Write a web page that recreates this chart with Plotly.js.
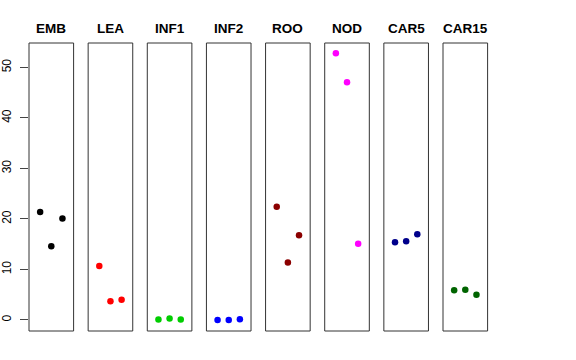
<!DOCTYPE html>
<html>
<head>
<meta charset="utf-8">
<script src="https://cdn.plot.ly/plotly-3.0.1.min.js"></script>
<style>html,body{margin:0;padding:0;background:#fff;}#chart{width:576px;height:360px;}</style>
</head>
<body>
<div id="chart"></div>
<script>
const categories = ['EMB','LEA','INF1','INF2','ROO','NOD','CAR5','CAR15'];
const emb   = [21.4, 14.6, 20.1];
const lea   = [10.7, 3.7, 4.0];
const inf1  = [0.1, 0.3, 0.1];
const inf2  = [0.0, 0.0, 0.15];
const roo   = [22.4, 11.4, 16.8];
const nod   = [52.8, 47.1, 15.1];
const car5  = [15.4, 15.6, 17.0];
const car15 = [5.9, 6.0, 5.0];
const replicate = [1, 2, 3];
const colors = ['#000000','#FF0000','#00CD00','#0000FF','#8B0000','#FF00FF','#00008B','#006400'];
const yTicks = [0, 10, 20, 30, 40, 50];

const series = [emb, lea, inf1, inf2, roo, nod, car5, car15];

const L = 29, R = 488, W = 576;
const step = (443 - 29) / 7, pw = 44.6, span = R - L;

const traces = [];
const layout = {
  width: 576, height: 360,
  margin: {l: L, r: W - R, t: 43, b: 29, pad: 0},
  paper_bgcolor: '#fff', plot_bgcolor: '#fff',
  showlegend: false,
  font: {family: 'Liberation Sans, Arial, sans-serif', size: 12, color: '#000'},
  yaxis: {
    range: [-2.18, 54.85], tickvals: yTicks, ticktext: yTicks.map(String),
    ticks: 'outside', ticklen: 8, tickcolor: '#444', tickwidth: 1,
    tickangle: -90, showgrid: false, zeroline: false, showline: false,
    anchor: 'x', ticklabelstandoff: 4,
    tickfont: {size: 12, color: '#000'}
  },
  shapes: [], annotations: []
};

series.forEach((vals, i) => {
  const ax = i === 0 ? 'x' : 'x' + (i + 1);
  const key = i === 0 ? 'xaxis' : 'xaxis' + (i + 1);
  traces.push({
    type: 'scatter', mode: 'markers', x: replicate, y: vals,
    xaxis: ax, yaxis: 'y', name: categories[i],
    marker: {color: colors[i], size: 6.5}
  });
  const d0 = (i * step) / span, d1 = (i * step + pw) / span;
  layout[key] = {
    domain: [d0, Math.min(d1, 1)], range: [0, 4], anchor: 'y',
    showticklabels: false, ticks: '', showgrid: false, zeroline: false, showline: false
  };
  layout.shapes.push({
    type: 'rect', xref: ax + ' domain', yref: 'y domain',
    x0: 0, x1: 1, y0: 0, y1: 1, line: {color: '#333', width: 1}
  });
  layout.annotations.push({
    text: categories[i], xref: ax + ' domain', x: 0.5, yref: 'paper', y: 1,
    xanchor: 'center', yanchor: 'bottom', yshift: 5, showarrow: false,
    font: {size: 13.5, weight: 'bold', color: '#000'}
  });
});

Plotly.newPlot('chart', traces, layout, {displayModeBar: false, staticPlot: true});
</script>
</body>
</html>
